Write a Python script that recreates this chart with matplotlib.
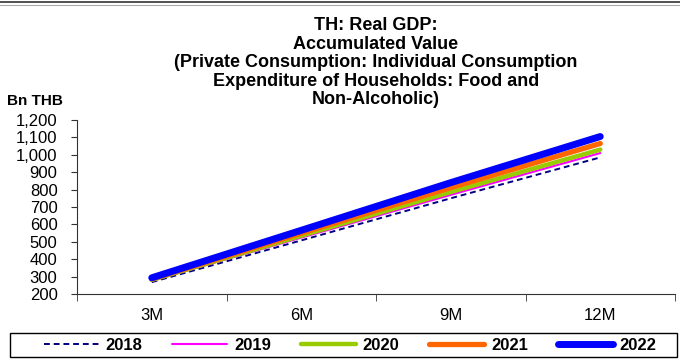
import matplotlib
matplotlib.use('Agg')
import matplotlib.pyplot as plt
from matplotlib.ticker import FuncFormatter, FixedLocator
from matplotlib.lines import Line2D
from matplotlib.patches import Rectangle

plt.rcParams['font.family'] = ['Liberation Sans', 'DejaVu Sans']

periods = ['3M', '6M', '9M', '12M']
years = ['2018', '2019', '2020', '2021', '2022']
v2018 = [268, 508, 750, 985]
v2019 = [276, 524, 770, 1010]
v2020 = [281, 535, 786, 1030]
v2021 = [286, 549, 811, 1065]
v2022 = [293, 566, 840, 1105]
series = [v2018, v2019, v2020, v2021, v2022]

colors = ['#000080', '#FF00FF', '#99CC00', '#FF6600', '#0000FF']
widths = [1.4, 1.5, 3.2, 3.8, 5.0]
styles = [(0, (3, 2)), '-', '-', '-', '-']

fig = plt.figure(figsize=(6.8, 3.62), dpi=100)
ax = fig.add_axes([77/680, 1 - 294/362, 598/680, 174/362])

x = list(range(len(periods)))
for vals, yr, c, lw, ls in zip(series, years, colors, widths, styles):
    ax.plot(x, vals, color=c, lw=lw, ls=ls, label=yr,
            solid_capstyle='round', dash_capstyle='butt')

ax.set_xlim(-0.5, 3.5)
ax.set_ylim(200, 1200)
ax.set_yticks(range(200, 1201, 100))
ax.yaxis.set_major_formatter(FuncFormatter(lambda v, p: f'{int(v):,}'))
ax.set_xticks(x)
ax.set_xticklabels(periods)
ax.xaxis.set_minor_locator(FixedLocator([-0.5, 0.5, 1.5, 2.5, 3.5]))
ax.tick_params(axis='x', which='major', length=0, pad=10, labelsize=12)
ax.tick_params(axis='x', which='minor', length=5, color='#333333')
ax.tick_params(axis='y', length=4, labelsize=12, pad=10, color='#333333')

for s in ['top', 'right']:
    ax.spines[s].set_visible(False)
for s in ['left', 'bottom']:
    ax.spines[s].set_color('#333333')

fig.text(376/680, 1 - 17/362,
         'TH: Real GDP:\nAccumulated Value\n(Private Consumption: Individual Consumption\n'
         'Expenditure of Households: Food and\nNon-Alcoholic)',
         ha='center', va='top', fontsize=13, fontweight='bold', linespacing=1.12)
fig.text(7/680, 1 - 101/362, 'Bn THB', ha='left', va='center',
         fontsize=11, fontweight='bold')

# header rule at the top
fig.add_artist(Line2D([0, 1], [1 - 2/362, 1 - 2/362], color='#333333', lw=1.2))
fig.add_artist(Line2D([0, 1], [1 - 5/362, 1 - 5/362], color='#aaaaaa', lw=0.8))

# legend box drawn separately so it spans the full width
fig.add_artist(Rectangle((10/680, 5/362), 667/680, 24/362, transform=fig.transFigure,
                         fill=False, edgecolor='black', lw=1.0))
leg = fig.legend(loc='center', ncol=5, bbox_to_anchor=(350/680, 17/362),
                 frameon=False, handlelength=3.3, handletextpad=0.4,
                 columnspacing=1.8, borderpad=0.1,
                 prop={'weight': 'bold', 'size': 12})

fig.savefig('out.png', dpi=100)
